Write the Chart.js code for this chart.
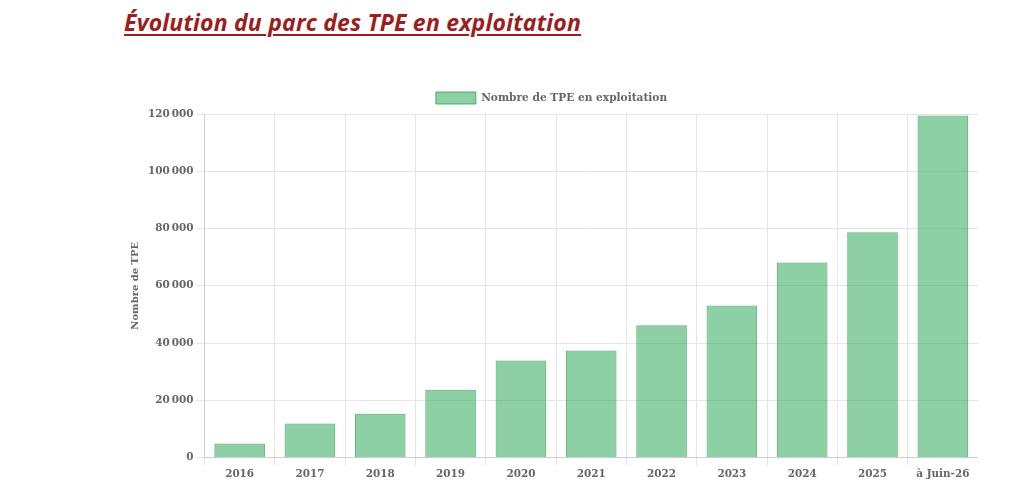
<!DOCTYPE html>
<html lang="fr">
<head>
<meta charset="utf-8">
<title>Évolution du parc des TPE en exploitation</title>
<script src="https://cdn.jsdelivr.net/npm/chart.js@4/dist/chart.umd.min.js"></script>
<style>
  html, body { margin: 0; padding: 0; background: #fff; }
  body { width: 1024px; height: 496px; position: relative; overflow: hidden; }
  h2 {
    position: absolute; left: 124px; top: 6px; margin: 0;
    font-family: "Open Sans", sans-serif; font-weight: 700; font-style: italic;
    font-size: 23px; letter-spacing: 0.2px; color: #9b1d20; text-decoration: underline;
    text-decoration-thickness: 2px; text-underline-offset: 3px;
  }
  #wrap { position: absolute; left: 125px; top: 82px; width: 853px; height: 402px; }
</style>
</head>
<body>
<h2>Évolution du parc des TPE en exploitation</h2>
<div id="wrap"><canvas id="tpeChart"></canvas></div>
<script>
// Data
var categories = ["2016", "2017", "2018", "2019", "2020", "2021", "2022", "2023", "2024", "2025", "à Juin-26"];
var tpeValues = [4900, 11900, 15300, 23700, 33900, 37400, 46200, 53100, 68100, 78700, 119500];
var seriesLabel = "Nombre de TPE en exploitation";
var yTitle = "Nombre de TPE";

Chart.defaults.font.family = "'DejaVu Serif', serif";
Chart.defaults.font.weight = "bold";
Chart.defaults.font.size = 10.4;
Chart.defaults.color = "#666";

const data = {
  labels: categories,
  datasets: [
    {
      label: seriesLabel,
      data: tpeValues,
      backgroundColor: "rgba(48, 170, 93, 0.55)",
      borderColor: "rgba(40, 160, 60, 0.75)",
      borderWidth: 1,
    },
  ],
};

const config = {
  type: "bar",
  data: data,
  options: {
    locale: "fr-FR",
    responsive: true,
    maintainAspectRatio: false,
    animation: false,
    plugins: {
      legend: {
        labels: { boxWidth: 40, boxHeight: 12, font: { size: 10.6, weight: "bold" } },
      },
      tooltip: { enabled: false },
    },
    scales: {
      x: {
        grid: { color: "#e5e5e5" },
      },
      y: {
        beginAtZero: true,
        max: 120000,
        ticks: { stepSize: 20000 },
        grid: { color: "#e5e5e5" },
        title: { display: true, text: yTitle, font: { size: 10, weight: "bold" } },
      },
    },
  },
};

const tpeChart = new Chart(document.getElementById("tpeChart").getContext("2d"), config);
</script>
</body>
</html>
